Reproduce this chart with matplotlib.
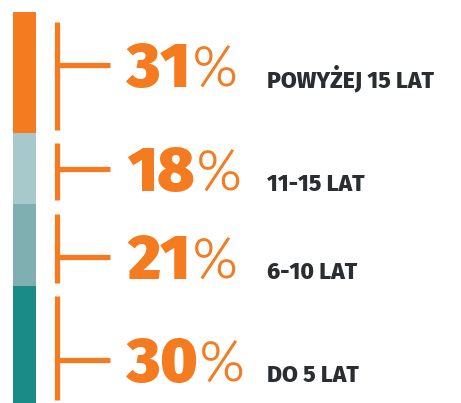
import matplotlib.pyplot as plt

# data: age groups from top to bottom of the bar
labels = ["POWYŻEJ 15 LAT", "11-15 LAT", "6-10 LAT", "DO 5 LAT"]
values = [31, 18, 21, 30]
colors = ["#F47B20", "#A8C9CB", "#7FAFB0", "#1B8B87"]

orange = "#F47B20"
dark = "#2B2E31"

# text baselines (in % units of the bar)
baselines = [19.2, 45.8, 68.3, 94.6]

fig = plt.figure(figsize=(4.61, 4.03), dpi=100)
ax = fig.add_axes([0, 0, 1, 1])
ax.set_xlim(0, 461)
ax.set_ylim(100, -12 / 3.91)
ax.axis("off")

bottom = 0
for v, c in zip(values, colors):
    ax.bar(24.5, v, width=23, bottom=bottom, color=c, linewidth=0)
    bottom += v

bottom = 0
for i, v in enumerate(values):
    top = bottom + v
    y0 = bottom + 2.6
    y1 = min(top - 0.8, 100)
    ax.plot([57, 57], [y0, y1], color=orange, lw=3.8, solid_capstyle="butt")
    ymid = baselines[i] - 5.6
    ax.plot([57, 110], [ymid, ymid], color=orange, lw=3.8, solid_capstyle="butt")

    t = ax.text(127, baselines[i], str(v), color=orange, fontsize=45,
                fontfamily="Fira Sans", fontweight=900,
                va="baseline", ha="left")
    fig.canvas.draw()
    bb = t.get_window_extent().transformed(ax.transData.inverted())
    ax.text(bb.x1 + 1, baselines[i], "%", color=orange, fontsize=42,
            fontfamily="Fira Sans", fontweight=300, va="baseline", ha="left")
    ax.text(267, baselines[i], labels[i], color=dark, fontsize=16.5,
            fontfamily="Fira Sans", fontweight=800,
            va="baseline", ha="left")
    bottom = top

fig.savefig("out.png", dpi=100)
